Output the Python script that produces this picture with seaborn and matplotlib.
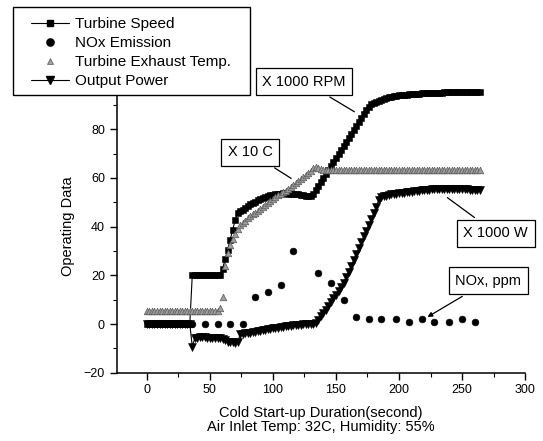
import numpy as np
import pandas as pd
import matplotlib
matplotlib.use("Agg")
import matplotlib.pyplot as plt
import seaborn as sns
from matplotlib.lines import Line2D
from matplotlib.patches import Rectangle
from matplotlib.ticker import MultipleLocator

# ---------------- data ----------------
time_s = np.arange(0, 266, 2)  # sampling times, seconds

turbine_speed = [  # x 1000 RPM
    0, 0, 0, 0, 0, 0, 0, 0, 0, 0,
    0, 0, 0, 0, 0, 0, 0, 0, 20.3, 20.3,
    20.3, 20.3, 20.3, 20.3, 20.3, 20.3, 20.3, 20.3, 20.3, 20.3,
    22.5, 26.6, 30.5, 34.5, 38.6, 42.7, 45.5, 46.3, 47.0, 47.8,
    48.5, 49.1, 49.7, 50.3, 50.8, 51.3, 51.7, 52.1, 52.5, 52.8,
    53.1, 53.3, 53.5, 53.6, 53.7, 53.7, 53.6, 53.5, 53.4, 53.3,
    53.2, 53.0, 52.8, 52.6, 52.5, 52.6, 53.2, 55.0, 56.6, 58.2,
    59.9, 61.5, 63.2, 64.8, 66.4, 68.1, 69.7, 71.4, 73.0, 74.6,
    76.3, 77.9, 79.5, 81.2, 82.8, 84.5, 86.1, 87.8, 89.3, 90.3,
    90.9, 91.4, 91.8, 92.2, 92.5, 92.8, 93.1, 93.3, 93.5, 93.7,
    93.9, 94.0, 94.1, 94.2, 94.3, 94.4, 94.5, 94.5, 94.6, 94.7,
    94.7, 94.8, 94.8, 94.9, 94.9, 95.0, 95.0, 95.0, 95.1, 95.1,
    95.1, 95.2, 95.2, 95.2, 95.2, 95.3, 95.3, 95.3, 95.3, 95.3,
    95.4, 95.4, 95.4,
]

exhaust_temp = [  # x 10 C
    5.5, 5.5, 5.5, 5.5, 5.5, 5.5, 5.5, 5.5, 5.5, 5.5,
    5.5, 5.5, 5.5, 5.5, 5.5, 5.5, 5.5, 5.5, 5.5, 5.5,
    5.5, 5.5, 5.5, 5.5, 5.5, 5.5, 5.5, 5.5, 5.5, 6.5,
    11.2, 24.0, 29.0, 32.5, 35.0, 37.0, 39.0, 40.5, 41.5, 42.5,
    43.4, 44.2, 45.0, 45.8, 46.6, 47.4, 48.2, 49.0, 49.8, 50.6,
    51.4, 52.2, 53.0, 53.6, 54.2, 54.8, 55.5, 56.2, 57.0, 57.8,
    58.6, 59.4, 60.3, 61.2, 62.1, 63.0, 64.0, 64.5, 64.0, 63.6,
    63.4, 63.3, 63.4, 63.3, 63.2, 63.3, 63.4, 63.3, 63.3, 63.4,
    63.3, 63.2, 63.3, 63.4, 63.3, 63.3, 63.2, 63.3, 63.4, 63.3,
    63.3, 63.4, 63.3, 63.2, 63.3, 63.3, 63.4, 63.3, 63.3, 63.2,
    63.3, 63.4, 63.3, 63.3, 63.2, 63.3, 63.4, 63.3, 63.3, 63.4,
    63.3, 63.2, 63.3, 63.3, 63.4, 63.3, 63.3, 63.2, 63.3, 63.4,
    63.3, 63.3, 63.2, 63.3, 63.4, 63.3, 63.3, 63.2, 63.3, 63.3,
    63.4, 63.3, 63.3,
]

output_power = [  # x 1000 W
    0, 0, 0, 0, 0, 0, 0, 0, 0, 0,
    0, 0, 0, 0, 0, 0, 0, 0, -9.3, -5.8,
    -5.6, -5.5, -5.5, -5.5, -5.6, -5.6, -5.6, -5.7, -5.7, -5.8,
    -6.0, -6.6, -7.2, -7.4, -7.5, -7.6, -7.5, -4.2, -4.0, -3.9,
    -3.7, -3.5, -3.3, -3.1, -2.9, -2.7, -2.5, -2.3, -2.1, -2.0,
    -1.8, -1.6, -1.5, -1.3, -1.2, -1.0, -0.9, -0.8, -0.6, -0.5,
    -0.4, -0.3, -0.2, -0.1, 0.0, 0.1, 0.2, 0.4, 1.6, 3.2,
    4.4, 5.9, 7.5, 9.0, 10.6, 12.1, 13.7, 15.2, 16.9, 19.2,
    21.5, 23.8, 26.1, 28.6, 31.2, 33.6, 36.0, 38.4, 40.8, 43.0,
    45.5, 48.2, 51.0, 52.0, 52.4, 52.7, 53.0, 53.2, 53.4, 53.6,
    53.7, 53.8, 54.0, 54.1, 54.2, 54.4, 54.5, 54.6, 54.8, 54.9,
    55.1, 55.2, 55.2, 55.3, 55.4, 55.4, 55.5, 55.5, 55.5, 55.5,
    55.5, 55.5, 55.4, 55.4, 55.4, 55.3, 55.3, 55.3, 55.2, 55.2,
    55.1, 55.1, 55.0,
]

nox_time = [36, 46, 56, 66, 76, 86, 96, 106, 116, 136, 146, 156, 166,
            176, 186, 198, 208, 218, 228, 240, 250, 260]
nox_ppm = [0, 0, 0, 0, 0, 11.2, 13.0, 16.0, 30.0, 21.0, 17.0, 10.0, 3.0,
           2.0, 2.0, 2.0, 1.0, 2.0, 1.0, 1.0, 2.0, 1.0]

series_labels = ["Turbine Speed", "NOx Emission", "Turbine Exhaust Temp.", "Output Power"]
annotation_texts = ["X 1000 RPM", "X 10 C", "X 1000 W", "NOx, ppm"]
x_ticks = [0, 50, 100, 150, 200, 250, 300]
y_ticks = [-20, 0, 20, 40, 60, 80]
x_label = "Cold Start-up Duration(second)\nAir Inlet Temp: 32C, Humidity: 55%"
y_label = "Operating Data"

assert len(turbine_speed) == len(time_s)
assert len(exhaust_temp) == len(time_s)
assert len(output_power) == len(time_s)

df = pd.DataFrame({"t": time_s, "speed": turbine_speed,
                   "exhaust": exhaust_temp, "power": output_power})
df_nox = pd.DataFrame({"t": nox_time, "nox": nox_ppm})

# ---------------- style ----------------
sns.set_theme(style="ticks")
plt.rcParams["font.family"] = ["Liberation Sans", "DejaVu Sans"]
plt.rcParams["text.color"] = "black"
plt.rcParams["axes.labelcolor"] = "black"
plt.rcParams["xtick.color"] = "black"
plt.rcParams["ytick.color"] = "black"
plt.rcParams["axes.edgecolor"] = "black"

W, H = 543, 441
fig = plt.figure(figsize=(W / 100, H / 100), dpi=100)
ax = fig.add_axes([0.2149, 0.1549, 0.752, 0.6624])

sns.lineplot(data=df, x="t", y="speed", ax=ax, color="black", linewidth=0.8,
             marker="s", markersize=4.8, markeredgewidth=0.4,
             markeredgecolor="black", zorder=3)
sns.lineplot(data=df, x="t", y="power", ax=ax, color="black", linewidth=0.8,
             marker="v", markersize=5.2, markeredgewidth=0.4,
             markeredgecolor="black", zorder=3)
sns.scatterplot(data=df_nox, x="t", y="nox", ax=ax, color="black",
                marker="o", s=24, edgecolor="black", linewidth=0.4, zorder=4)
sns.scatterplot(data=df, x="t", y="exhaust", ax=ax, color="0.62",
                marker="^", s=22, edgecolor="0.35", linewidth=0.5, zorder=5)

ax.set_xlim(-24, 300)
ax.set_ylim(-20, 100)
ax.set_xticks(x_ticks)
ax.set_yticks(y_ticks)
ax.xaxis.set_minor_locator(MultipleLocator(25))
ax.yaxis.set_minor_locator(MultipleLocator(10))
ax.tick_params(which="major", direction="out", length=5, width=1.0, labelsize=9)
ax.tick_params(which="minor", direction="out", length=3, width=0.8)
sns.despine(ax=ax)
for sp in ("left", "bottom"):
    ax.spines[sp].set_linewidth(1.1)
ax.set_xlabel(x_label, fontsize=10.5, linespacing=1.0, labelpad=7)
ax.set_ylabel(y_label, fontsize=10.5, labelpad=6)

# ---------------- annotation boxes ----------------
box = dict(boxstyle="square,pad=0.45", fc="white", ec="black", lw=0.9)
ax.annotate(annotation_texts[0], xy=(166.5, 86.6), xytext=(124.7, 99.6),
            textcoords="data", ha="center", va="center", fontsize=10.5,
            bbox=box, annotation_clip=False,
            arrowprops=dict(arrowstyle="-", color="black", lw=0.9))
ax.annotate(annotation_texts[1], xy=(116.3, 59.2), xytext=(81.9, 70.5),
            textcoords="data", ha="center", va="center", fontsize=10.5,
            bbox=box, zorder=6,
            arrowprops=dict(arrowstyle="-", color="black", lw=0.9))
ax.annotate(annotation_texts[2], xy=(236.6, 52.6), xytext=(276.8, 37.3),
            textcoords="data", ha="center", va="center", fontsize=10.5,
            bbox=box, annotation_clip=False,
            arrowprops=dict(arrowstyle="-", color="black", lw=0.9))
ax.annotate(annotation_texts[3], xy=(220.7, 2.3), xytext=(270.9, 17.7),
            textcoords="data", ha="center", va="center", fontsize=10.5,
            bbox=box, annotation_clip=False,
            arrowprops=dict(arrowstyle="-|>", color="black", lw=0.9,
                            mutation_scale=7))

# ---------------- legend ----------------
frame = Rectangle((13 / W, 1 - 95 / H), 237 / W, 88 / H, transform=fig.transFigure,
                  facecolor="white", edgecolor="black", linewidth=1.0, zorder=4.5)
fig.add_artist(frame)

handles = [
    Line2D([], [], color="black", lw=0.8, marker="s", markersize=4.8),
    Line2D([], [], color="black", lw=0, marker="o", markersize=5.2),
    Line2D([], [], color="0.62", lw=0, marker="^", markersize=5,
           markeredgecolor="0.35", markeredgewidth=0.5),
    Line2D([], [], color="black", lw=0.8, marker="v", markersize=5.2),
]
leg = fig.legend(handles, series_labels, loc="upper left",
                 bbox_to_anchor=(31 / W, 1 - 17 / H), fontsize=11,
                 frameon=False, borderaxespad=0, borderpad=0,
                 handlelength=2.5, handletextpad=0.35, labelspacing=0.33)
leg.set_zorder(5)

fig.savefig("out.png", dpi=100)
